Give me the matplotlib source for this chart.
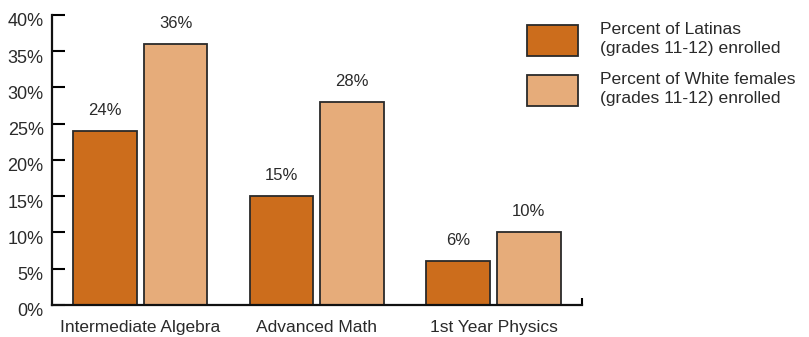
import numpy as np
import matplotlib.pyplot as plt
from matplotlib.patches import Rectangle
import matplotlib.transforms as mtransforms

plt.rcParams['font.family'] = ['Liberation Sans', 'DejaVu Sans']

courses = ['Intermediate Algebra', 'Advanced Math', '1st Year Physics']
latinas = [24, 15, 6]
white_females = [36, 28, 10]
series_labels = ['Percent of Latinas\n(grades 11-12) enrolled',
                 'Percent of White females\n(grades 11-12) enrolled']
colors = ['#CC6D1C', '#E6AC7A']
yticks = [0, 5, 10, 15, 20, 25, 30, 35, 40]

fig = plt.figure(figsize=(8.09, 3.37), dpi=100)
ax = fig.add_axes([0.0643, 0.095, 0.655, 0.8605])

x = np.arange(len(courses))
w = 0.36
b1 = ax.bar(x - 0.2, latinas, w, color=colors[0], edgecolor='#2a2a2a', linewidth=1.3)
b2 = ax.bar(x + 0.2, white_females, w, color=colors[1], edgecolor='#2a2a2a', linewidth=1.3)

for bars, vals in ((b1, latinas), (b2, white_females)):
    for r, v in zip(bars, vals):
        ax.annotate('%d%%' % v, (r.get_x() + r.get_width() / 2, v),
                    xytext=(0, 9.5), textcoords='offset points',
                    ha='center', va='bottom', fontsize=12, color='#2a2a2a')

ax.set_xlim(-0.5, 2.5)
ax.set_ylim(0, 40)
ax.set_yticks(yticks)
ax.set_yticklabels(['%d%%' % t for t in yticks], fontsize=13, color='#2a2a2a')
ax.tick_params(axis='y', direction='in', length=9, width=1.5, pad=6)
# nudge y labels slightly downward
off = mtransforms.ScaledTranslation(0, -5 / 100, fig.dpi_scale_trans)
for lab in ax.get_yticklabels():
    lab.set_transform(lab.get_transform() + off)

ax.set_xticks(x)
ax.set_xticklabels(courses, fontsize=12.5, color='#2a2a2a')
ax.tick_params(axis='x', length=0, pad=11)
ax.set_xticks([2.5], minor=True)
ax.tick_params(axis='x', which='minor', direction='in', length=5, width=1.5)

for s in ['top', 'right']:
    ax.spines[s].set_visible(False)
for s in ['left', 'bottom']:
    ax.spines[s].set_linewidth(1.6)
    ax.spines[s].set_color('#111111')

# legend drawn in figure pixels
H = 337
for i, (c, lab) in enumerate(zip(colors, series_labels)):
    top = 25 + i * 50
    fig.add_artist(Rectangle((527 / 809, 1 - (top + 31) / H), 51 / 809, 31 / H,
                             transform=fig.transFigure, facecolor=c,
                             edgecolor='#2a2a2a', linewidth=1.3))
    fig.text(600 / 809, 1 - (top + 14) / H, lab, fontsize=12.6, color='#2a2a2a',
             va='center', ha='left', linespacing=1.3)

fig.savefig('out.png', dpi=100)
